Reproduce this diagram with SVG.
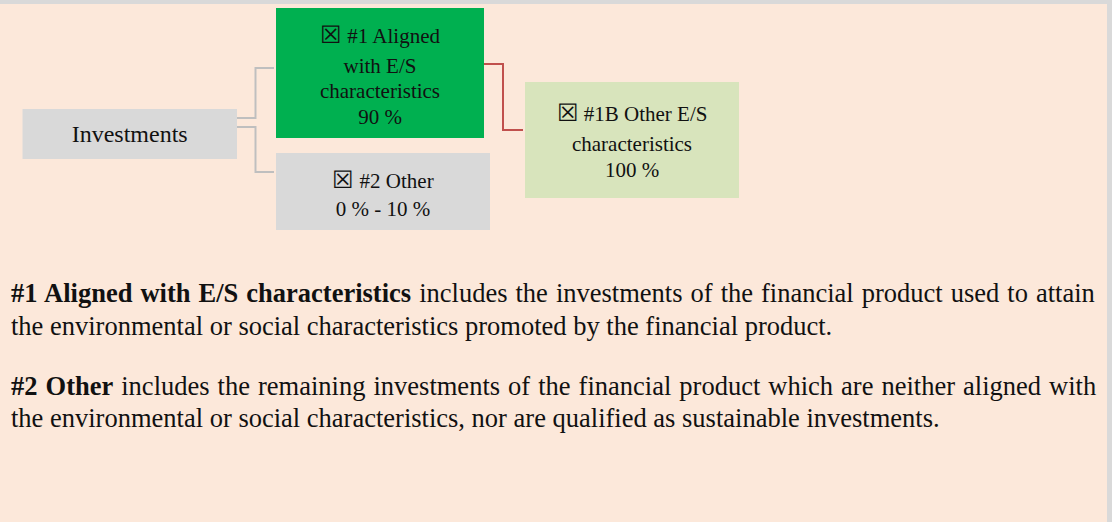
<svg xmlns="http://www.w3.org/2000/svg" width="1112" height="522" viewBox="0 0 1112 522">
<style>
.t{font-family:"Liberation Serif","Times New Roman",serif;fill:#111;}
.n{font-size:21px;text-anchor:middle;}
.x{font-size:24px;}
.b{font-size:26.5px;}
.j{word-spacing:1.4px;}
.bold{font-weight:bold;}
.gc{fill:none;stroke:#BFBFBF;stroke-width:2;}
.rc{fill:none;stroke:#C0504D;stroke-width:2;}
</style>
<rect x="0" y="0" width="1112" height="522" fill="#FCE8DA"/>
<rect x="0" y="0" width="1112" height="4" fill="#D9D9D9"/>
<rect x="1107" y="0" width="5" height="522" fill="#D9D9D9"/>
<g id="connectors">
<polyline class="gc" points="237,118 255.5,118 255.5,68 274,68"/>
<polyline class="gc" points="237,127 255.5,127 255.5,172 274,172"/>
<polyline class="rc" points="484,64 503,64 503,130 523,130"/>
</g>
<g id="investments">
<rect x="22.5" y="109" width="214.5" height="50" fill="#D9D9D9"/>
<text class="t n" x="129.7" y="142" style="font-size:24px">Investments</text>
</g>
<g id="aligned">
<rect x="276" y="8" width="208" height="130" fill="#00B050"/>
<text class="t n" x="380" y="43"><tspan class="x">☒</tspan> #1 Aligned</text>
<text class="t n" x="380" y="73">with E/S</text>
<text class="t n" x="380" y="98">characteristics</text>
<text class="t n" x="380" y="124">90 %</text>
</g>
<g id="other">
<rect x="276" y="153" width="214" height="77" fill="#D9D9D9"/>
<text class="t n" x="383" y="188"><tspan class="x">☒</tspan> #2 Other</text>
<text class="t n" x="383" y="216">0 % - 10 %</text>
</g>
<g id="other-es">
<rect x="525" y="82" width="214" height="116" fill="#D8E4BC"/>
<text class="t n" x="632" y="121"><tspan class="x">☒</tspan> #1B Other E/S</text>
<text class="t n" x="632" y="151">characteristics</text>
<text class="t n" x="632" y="177">100 %</text>
</g>
<g id="notes">
<text class="t b j" x="11" y="302"><tspan class="bold">#1 Aligned with E/S characteristics</tspan> includes the investments of the financial product used to attain</text>
<text class="t b" x="11" y="335">the environmental or social characteristics promoted by the financial product.</text>
<text class="t b j" x="11" y="395"><tspan class="bold">#2 Other</tspan> includes the remaining investments of the financial product which are neither aligned with</text>
<text class="t b" x="11" y="427">the environmental or social characteristics, nor are qualified as sustainable investments.</text>
</g>
</svg>
